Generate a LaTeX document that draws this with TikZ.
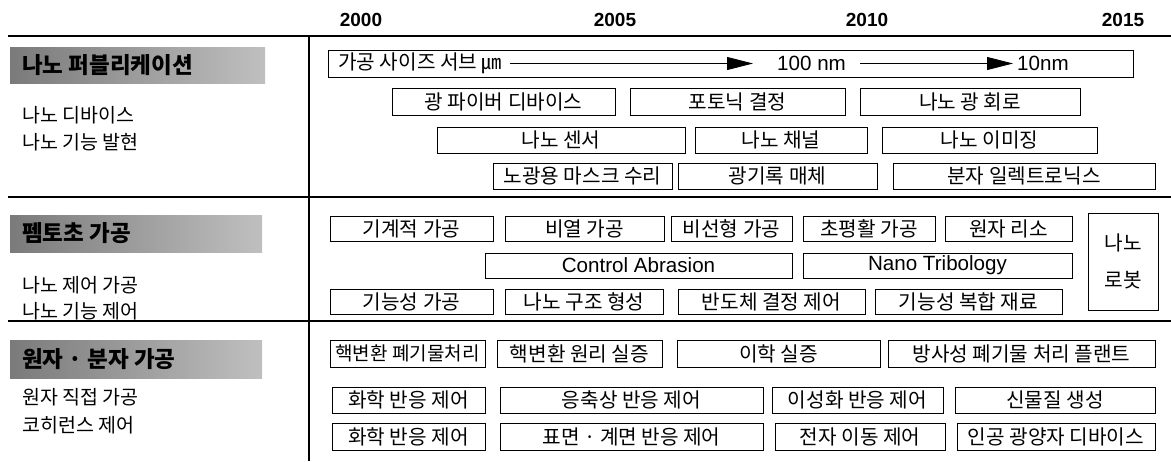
\documentclass[tikz,border=0pt]{standalone}
\usepackage{fontspec}
\setmainfont{Noto Sans CJK KR}
\newfontfamily\lat{Liberation Sans}
\usetikzlibrary{arrows.meta}
\newcommand{\bx}[7][box]{\node[#1,minimum width={#5-#3},minimum height={#6-#4}] (#2) at ({(#3+#5)/2},{(#4+#6)/2}) {#7};}
\begin{document}
\begin{tikzpicture}[x=1pt,y=-1pt,
  box/.style={draw,line width=0.9pt,inner sep=0pt,font=\fontsize{20.2}{22}\selectfont},
  smallbox/.style={box,font=\fontsize{19}{21}\selectfont},
  latbox/.style={box,font=\lat\fontsize{20.6}{22}\selectfont},
  year/.style={font=\lat\bfseries\fontsize{19}{21}\selectfont,inner sep=0pt},
  hdr/.style={inner sep=0pt,left color=black!52,right color=black!25},
  hdrtext/.style={font=\bfseries\fontsize{22.5}{24}\selectfont,anchor=west,inner sep=0pt},
  sub/.style={font=\fontsize{19.5}{21}\selectfont,anchor=west,inner sep=0pt},
  plain/.style={inner sep=0pt,anchor=west},
  rule/.style={line width=1.4pt},
  arr/.style={line width=0.8pt,-{Triangle[length=26pt,width=13pt]}}]
\useasboundingbox (0,0) rectangle (1171,461);
% years
\node[year] (y2000) at (361,20) {2000};
\node[year] (y2005) at (615,20) {2005};
\node[year] (y2010) at (867,20) {2010};
\node[year] (y2015) at (1123,20) {2015};
% rules
\draw[rule] (8,36) -- (1171,36);
\draw[rule] (8,197) -- (1171,197);
\draw[rule] (8,321) -- (1171,321);
\draw[line width=1.2pt] (309,36) -- (309,461);
% headers
\bx[hdr]{h1}{10}{47}{265}{83}{}
\node[hdrtext] (h1t) at (22,65) {나노 퍼블리케이션};
\bx[hdr]{h2}{10}{215}{262}{252}{}
\node[hdrtext] (h2t) at (22,233.5) {펨토초 가공};
\bx[hdr]{h3}{10}{340}{262}{378}{}
\node[hdrtext] (h3t) at (22,359) {원자 · 분자 가공};
% subtitles
\node[sub] (s11) at (22,115) {나노 디바이스};
\node[sub] (s12) at (22,142) {나노 기능 발현};
\node[sub] (s21) at (22,285) {나노 제어 가공};
\node[sub] (s22) at (22,311) {나노 기능 제어};
\node[sub] (s31) at (22,397) {원자 직접 가공};
\node[sub] (s32) at (22,425) {코히런스 제어};
% section 1
\bx{size}{328}{50}{1133}{77}{}
\node[plain,font=\fontsize{20.2}{22}\selectfont] (t1) at (338,63.5) {가공 사이즈 서브 ㎛};
\node[plain,font=\lat\fontsize{20.6}{22}\selectfont] (t2) at (777,63.5) {100 nm};
\node[plain,font=\lat\fontsize{20.6}{22}\selectfont] (t3) at (1017,63.5) {10nm};
\coordinate (a1) at (753,63.5);
\coordinate (a2) at (1013,63.5);
\draw[arr,shorten <=8pt] (t1.east) -- (a1);
\draw[arr,shorten <=14pt] (t2.east) -- (a2);
\bx{fiber}{392}{88}{615}{115}{광 파이버 디바이스}
\bx{photonic}{630}{88}{845}{115}{포토닉 결정}
\bx{circuit}{860}{88}{1080}{115}{나노 광 회로}
\bx{sensor}{437}{127}{685}{153}{나노 센서}
\bx{channel}{695}{127}{867}{153}{나노 채널}
\bx{imaging}{882}{127}{1097}{153}{나노 이미징}
\bx{mask}{493}{163}{672}{189}{노광용 마스크 수리}
\bx{optrec}{678}{163}{877}{189}{광기록 매체}
\bx{molel}{893}{163}{1155}{189}{분자 일렉트로닉스}
% section 2
\bx{mech}{330}{216}{493}{241}{기계적 가공}
\bx{nonther}{505}{216}{664}{241}{비열 가공}
\bx{nonlin}{671}{216}{792}{241}{비선형 가공}
\bx{ultra}{803}{216}{935}{241}{초평활 가공}
\bx{litho}{945}{216}{1072}{241}{원자 리소}
\node[box,minimum width=70,minimum height=97,align=center,font=\fontsize{20.2}{37}\selectfont] (robot) at (1123,261.5) {나노\\로봇};
\bx[latbox]{abrasion}{485}{253}{792}{278}{Control Abrasion}
\bx[latbox]{tribo}{803}{253}{1072}{278}{Nano Tribology}
\bx{funcproc}{330}{289}{493}{314}{기능성 가공}
\bx{nanostr}{505}{289}{663}{314}{나노 구조 형성}
\bx{semicon}{678}{289}{865}{314}{반도체 결정 제어}
\bx{compos}{875}{289}{1062}{314}{기능성 복합 재료}
% section 3
\bx[smallbox]{waste}{330}{340}{485}{367}{핵변환 폐기물처리}
\bx{princ}{497}{340}{662}{367}{핵변환 원리 실증}
\bx{science}{677}{340}{880}{367}{이학 실증}
\bx{plant}{888}{340}{1155}{367}{방사성 폐기물 처리 플랜트}
\bx{chemA}{332}{387}{485}{413}{화학 반응 제어}
\bx{conden}{500}{387}{763}{413}{응축상 반응 제어}
\bx{isomer}{772}{387}{943}{413}{이성화 반응 제어}
\bx{newmat}{955}{387}{1155}{413}{신물질 생성}
\bx{chemB}{332}{423}{485}{450}{화학 반응 제어}
\bx{surface}{500}{423}{763}{450}{표면 · 계면 반응 제어}
\bx{electron}{775}{423}{945}{450}{전자 이동 제어}
\bx{photon}{957}{423}{1155}{450}{인공 광양자 디바이스}
\end{tikzpicture}
\end{document}
